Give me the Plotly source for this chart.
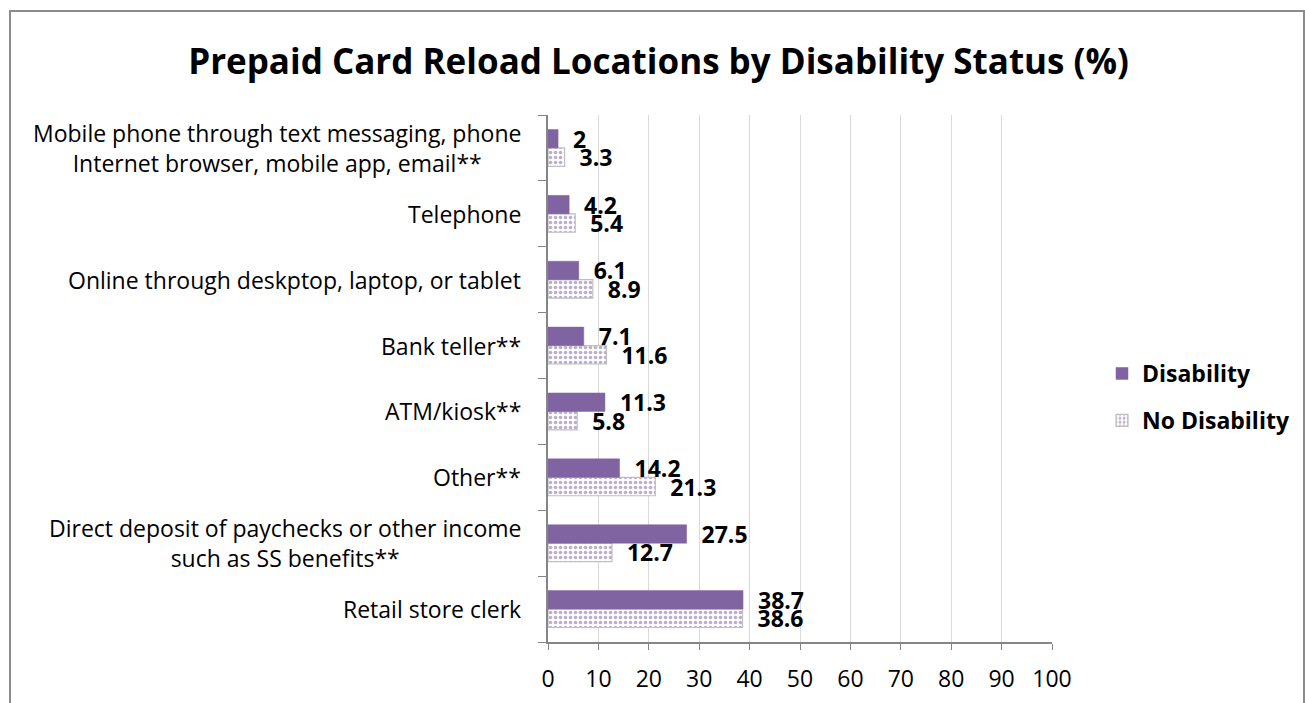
import plotly.graph_objects as go

categories = [
    "Retail store clerk",
    "Direct deposit of paychecks or other income<br>such as SS benefits**",
    "Other**",
    "ATM/kiosk**",
    "Bank teller**",
    "Online through deskptop, laptop, or tablet",
    "Telephone",
    "Mobile phone through text messaging, phone<br>Internet browser, mobile app, email**",
]
disability = [38.7, 27.5, 14.2, 11.3, 7.1, 6.1, 4.2, 2]
no_disability = [38.6, 12.7, 21.3, 5.8, 11.6, 8.9, 5.4, 3.3]
x_ticks = [0, 10, 20, 30, 40, 50, 60, 70, 80, 90, 100]

PURPLE = "#8064A2"
FONT = "Open Sans"
label_font = dict(family=FONT, size=23, color="black")

fig = go.Figure()
fig.add_trace(go.Bar(
    y=categories, x=no_disability, orientation="h", name="No Disability",
    legendrank=2, legendgroup="nd",
    marker=dict(color="white", line=dict(color="#BFBFBF", width=1.2),
                pattern=dict(shape=".", fgcolor="#7A5A9E", bgcolor="white", size=5, solidity=0.4)),
    texttemplate="\u00a0\u00a0%{x}", textposition="outside", constraintext="none",
    textfont=dict(family=FONT, size=23, color="black", weight="bold"),
    cliponaxis=False,
))
fig.add_trace(go.Bar(
    y=categories, x=disability, orientation="h", name="Disability",
    legendrank=1, legendgroup="d",
    marker=dict(color=PURPLE, line=dict(color=PURPLE, width=0.5)),
    texttemplate="\u00a0\u00a0%{x}", textposition="outside", constraintext="none",
    textfont=dict(family=FONT, size=23, color="black", weight="bold"),
    cliponaxis=False,
))

for c in categories:
    fig.add_annotation(x=0, xref="paper", y=c, yref="y", xanchor="right", yanchor="middle",
                       xshift=-25, text=c, align="center", showarrow=False, font=label_font)

# outer chart border
fig.add_shape(type="rect", xref="paper", yref="paper",
              x0=(10 - 548) / 504, x1=(1304 - 548) / 504,
              y0=-0.2, y1=(642 - 11) / 527,
              line=dict(color="#8C8C8C", width=2), fillcolor="rgba(0,0,0,0)", layer="below")

fig.update_layout(
    width=1305, height=703,
    margin=dict(l=548, r=253, t=115, b=61, autoexpand=False),
    paper_bgcolor="white", plot_bgcolor="white",
    barmode="group", bargap=0.44, bargroupgap=0,
    title=dict(text="<b>Prepaid Card Reload Locations by Disability Status (%)</b>",
               x=(185 + 1132) / 2 / 1305, xanchor="center", y=1 - 62 / 703, yanchor="middle",
               font=dict(family=FONT, size=35, color="black")),
    legend=dict(x=(1102 - 548) / 504, xanchor="left", y=(642 - 352) / 527, yanchor="top",
                traceorder="grouped", tracegroupgap=14,
                font=dict(family=FONT, size=23, color="black", weight="bold"),
                itemwidth=30),
    xaxis=dict(range=[0, 100], tickvals=x_ticks, showgrid=True, gridcolor="#D9D9D9", gridwidth=1,
               showline=True, linecolor="#868686", linewidth=1.5,
               ticks="outside", ticklen=6, tickcolor="#868686", ticklabelstandoff=10,
               tickfont=dict(family=FONT, size=23, color="black"), zeroline=False),
    yaxis=dict(showticklabels=False, ticks="outside", tickson="boundaries", ticklen=8,
               tickcolor="#868686", showline=True, linecolor="#868686", linewidth=1.5,
               showgrid=False, range=[-0.5, 7.5]),
)

fig.write_html("out.html", config={"displayModeBar": False},
               post_script="document.body.style.margin='0';document.body.style.overflow='hidden';")
